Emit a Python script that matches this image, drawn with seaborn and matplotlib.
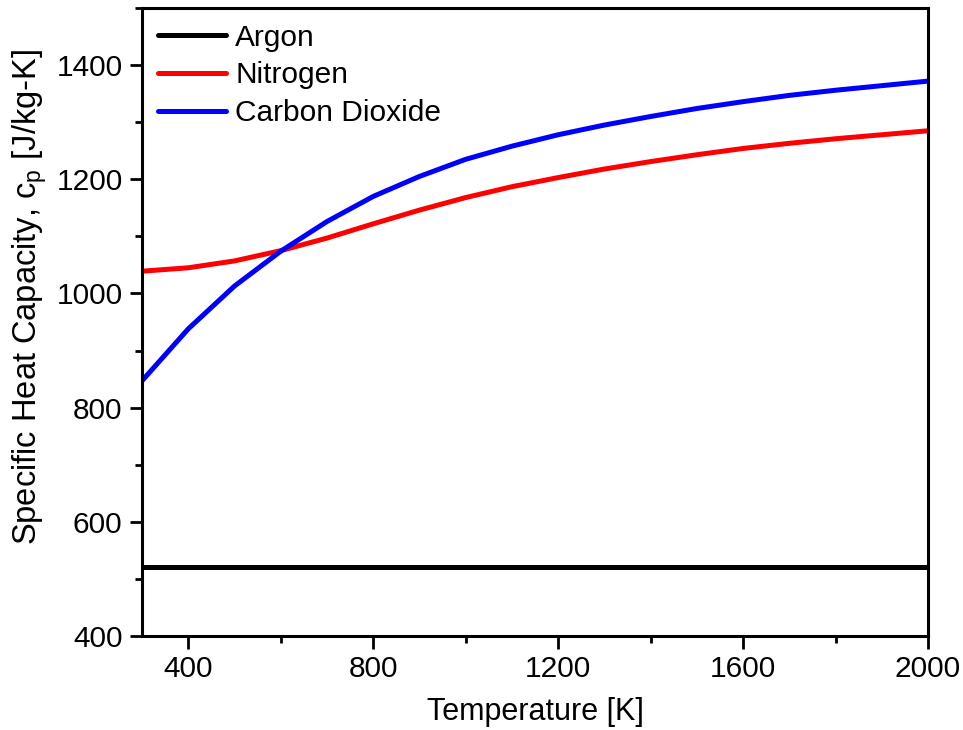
import pandas as pd
import matplotlib.pyplot as plt
import seaborn as sns
from matplotlib.ticker import MultipleLocator

# temperatures [K]
temperature = [300, 400, 500, 600, 700, 800, 900, 1000, 1100, 1200,
               1300, 1400, 1500, 1600, 1700, 1800, 1900, 2000]

# specific heat capacity [J/kg-K]
argon = [520] * len(temperature)
nitrogen = [1039, 1045, 1057, 1075, 1097, 1122, 1146, 1168, 1187, 1203,
            1218, 1231, 1243, 1254, 1263, 1271, 1278, 1285]
carbon_dioxide = [847, 938, 1013, 1074, 1126, 1170, 1205, 1235, 1258, 1278,
                  1295, 1310, 1324, 1336, 1347, 1356, 1364, 1372]

gases = ['Argon', 'Nitrogen', 'Carbon Dioxide']
colors = ['black', 'red', 'blue']

df = pd.DataFrame({
    'Temperature': temperature * 3,
    'cp': argon + nitrogen + carbon_dioxide,
    'Gas': [g for g in gases for _ in temperature],
})

sns.set_style('ticks')
plt.rcParams['font.family'] = ['Liberation Sans', 'DejaVu Sans']
plt.rcParams['mathtext.fontset'] = 'custom'
plt.rcParams['mathtext.rm'] = 'Liberation Sans'
for key in ['text.color', 'axes.labelcolor', 'xtick.color', 'ytick.color', 'axes.edgecolor']:
    plt.rcParams[key] = 'black'

fig, ax = plt.subplots(figsize=(9.63, 7.3), dpi=100)
fig.subplots_adjust(left=0.1475, right=0.9637, top=0.989, bottom=0.1288)

sns.lineplot(data=df, x='Temperature', y='cp', hue='Gas', hue_order=gases,
             palette=colors, linewidth=3.6, ax=ax)

ax.set_xlim(300, 2000)
ax.set_ylim(400, 1500)
ax.xaxis.set_major_locator(MultipleLocator(400))
ax.xaxis.set_minor_locator(MultipleLocator(200))
ax.yaxis.set_major_locator(MultipleLocator(200))
ax.yaxis.set_minor_locator(MultipleLocator(100))

ax.tick_params(which='major', direction='out', length=9, width=2, labelsize=21.5, pad=5)
ax.tick_params(which='minor', direction='out', length=5, width=2)
for side in ['left', 'bottom', 'top', 'right']:
    ax.spines[side].set_linewidth(2.2)

ax.set_xlabel('Temperature [K]', fontsize=22, labelpad=10)
ax.set_ylabel('Specific Heat Capacity, c$_\\mathregular{p}$ [J/kg-K]', fontsize=23.5)
ax.yaxis.set_label_coords(-0.118, 0.54)

ax.legend(loc='upper left', frameon=False, fontsize=21.5, handlelength=2.3,
          handletextpad=0.3, labelspacing=0.33, borderaxespad=0.12, title=None)

fig.savefig('out.png', dpi=100)
